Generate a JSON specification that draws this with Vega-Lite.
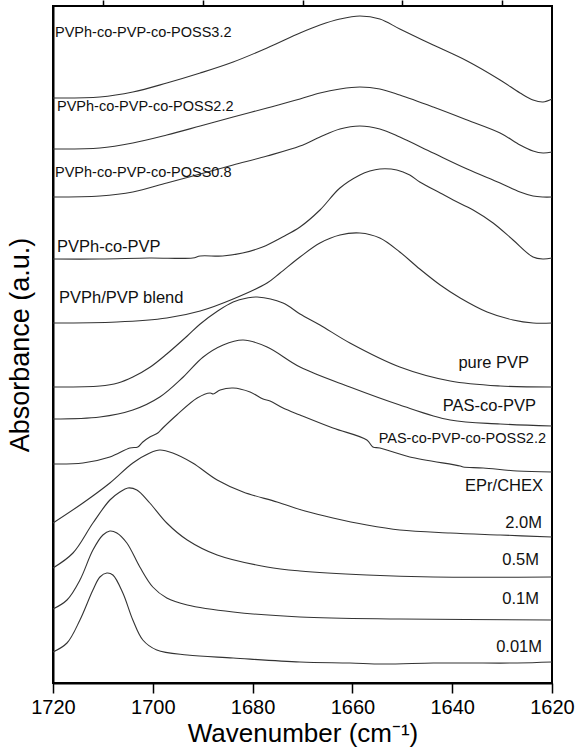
{
  "$schema": "https://vega.github.io/schema/vega-lite/v6.json",
  "width": 499,
  "height": 677,
  "autosize": "none",
  "padding": {"left": 53, "top": 6, "right": 29, "bottom": 71},
  "background": "white",
  "config": {
    "view": {"stroke": "#000", "strokeWidth": 2},
    "font": "Liberation Sans",
    "axis": {"labelFont": "Liberation Sans", "titleFont": "Liberation Sans", "grid": false}
  },
  "datasets": {
    "curves": [
      {"s":"PVPh-co-PVP-co-POSS3.2","wn":1720,"a":585},{"s":"PVPh-co-PVP-co-POSS3.2","wn":1710.6,"a":586},{"s":"PVPh-co-PVP-co-POSS3.2","wn":1704,"a":591},{"s":"PVPh-co-PVP-co-POSS3.2","wn":1697.2,"a":600},{"s":"PVPh-co-PVP-co-POSS3.2","wn":1690.5,"a":610},{"s":"PVPh-co-PVP-co-POSS3.2","wn":1683.9,"a":621},{"s":"PVPh-co-PVP-co-POSS3.2","wn":1677.1,"a":635},{"s":"PVPh-co-PVP-co-POSS3.2","wn":1670.5,"a":650},{"s":"PVPh-co-PVP-co-POSS3.2","wn":1666.5,"a":658},{"s":"PVPh-co-PVP-co-POSS3.2","wn":1662.5,"a":664},{"s":"PVPh-co-PVP-co-POSS3.2","wn":1658.5,"a":667},{"s":"PVPh-co-PVP-co-POSS3.2","wn":1654.5,"a":664},{"s":"PVPh-co-PVP-co-POSS3.2","wn":1650.5,"a":654},{"s":"PVPh-co-PVP-co-POSS3.2","wn":1643.8,"a":638},{"s":"PVPh-co-PVP-co-POSS3.2","wn":1637,"a":622},{"s":"PVPh-co-PVP-co-POSS3.2","wn":1630.4,"a":603},{"s":"PVPh-co-PVP-co-POSS3.2","wn":1626.4,"a":590},{"s":"PVPh-co-PVP-co-POSS3.2","wn":1623.8,"a":583},{"s":"PVPh-co-PVP-co-POSS3.2","wn":1621.8,"a":581},{"s":"PVPh-co-PVP-co-POSS3.2","wn":1620,"a":584},
      {"s":"PVPh-co-PVP-co-POSS2.2","wn":1720,"a":534},{"s":"PVPh-co-PVP-co-POSS2.2","wn":1710.6,"a":535},{"s":"PVPh-co-PVP-co-POSS2.2","wn":1704,"a":540},{"s":"PVPh-co-PVP-co-POSS2.2","wn":1697.2,"a":548},{"s":"PVPh-co-PVP-co-POSS2.2","wn":1690.5,"a":557},{"s":"PVPh-co-PVP-co-POSS2.2","wn":1683.9,"a":566},{"s":"PVPh-co-PVP-co-POSS2.2","wn":1677.1,"a":575},{"s":"PVPh-co-PVP-co-POSS2.2","wn":1670.5,"a":584},{"s":"PVPh-co-PVP-co-POSS2.2","wn":1666.5,"a":590},{"s":"PVPh-co-PVP-co-POSS2.2","wn":1662.5,"a":594},{"s":"PVPh-co-PVP-co-POSS2.2","wn":1658.5,"a":596},{"s":"PVPh-co-PVP-co-POSS2.2","wn":1654.5,"a":594},{"s":"PVPh-co-PVP-co-POSS2.2","wn":1650.5,"a":588},{"s":"PVPh-co-PVP-co-POSS2.2","wn":1643.8,"a":576},{"s":"PVPh-co-PVP-co-POSS2.2","wn":1637,"a":563},{"s":"PVPh-co-PVP-co-POSS2.2","wn":1630.4,"a":550},{"s":"PVPh-co-PVP-co-POSS2.2","wn":1626.4,"a":538},{"s":"PVPh-co-PVP-co-POSS2.2","wn":1623.8,"a":532},{"s":"PVPh-co-PVP-co-POSS2.2","wn":1621.8,"a":530},{"s":"PVPh-co-PVP-co-POSS2.2","wn":1620,"a":531},
      {"s":"PVPh-co-PVP-co-POSS0.8","wn":1720,"a":486},{"s":"PVPh-co-PVP-co-POSS0.8","wn":1710.6,"a":487},{"s":"PVPh-co-PVP-co-POSS0.8","wn":1704,"a":491},{"s":"PVPh-co-PVP-co-POSS0.8","wn":1697.2,"a":500},{"s":"PVPh-co-PVP-co-POSS0.8","wn":1690.5,"a":509},{"s":"PVPh-co-PVP-co-POSS0.8","wn":1683.9,"a":518},{"s":"PVPh-co-PVP-co-POSS0.8","wn":1677.1,"a":527},{"s":"PVPh-co-PVP-co-POSS0.8","wn":1670.5,"a":537},{"s":"PVPh-co-PVP-co-POSS0.8","wn":1666.5,"a":546},{"s":"PVPh-co-PVP-co-POSS0.8","wn":1662.5,"a":554},{"s":"PVPh-co-PVP-co-POSS0.8","wn":1658.5,"a":557},{"s":"PVPh-co-PVP-co-POSS0.8","wn":1654.5,"a":554},{"s":"PVPh-co-PVP-co-POSS0.8","wn":1650.5,"a":546},{"s":"PVPh-co-PVP-co-POSS0.8","wn":1643.8,"a":530},{"s":"PVPh-co-PVP-co-POSS0.8","wn":1637,"a":514},{"s":"PVPh-co-PVP-co-POSS0.8","wn":1630.4,"a":500},{"s":"PVPh-co-PVP-co-POSS0.8","wn":1626.4,"a":491},{"s":"PVPh-co-PVP-co-POSS0.8","wn":1623.8,"a":487},{"s":"PVPh-co-PVP-co-POSS0.8","wn":1621.8,"a":486},{"s":"PVPh-co-PVP-co-POSS0.8","wn":1620,"a":486},
      {"s":"PVPh-co-PVP","wn":1720,"a":424},{"s":"PVPh-co-PVP","wn":1710.6,"a":424},{"s":"PVPh-co-PVP","wn":1700.6,"a":425},{"s":"PVPh-co-PVP","wn":1692,"a":425},{"s":"PVPh-co-PVP","wn":1690.5,"a":427},{"s":"PVPh-co-PVP","wn":1686,"a":427},{"s":"PVPh-co-PVP","wn":1682,"a":430},{"s":"PVPh-co-PVP","wn":1678,"a":436},{"s":"PVPh-co-PVP","wn":1674,"a":446},{"s":"PVPh-co-PVP","wn":1670.5,"a":456},{"s":"PVPh-co-PVP","wn":1666.5,"a":473},{"s":"PVPh-co-PVP","wn":1662.5,"a":495},{"s":"PVPh-co-PVP","wn":1658.5,"a":508},{"s":"PVPh-co-PVP","wn":1656.5,"a":512},{"s":"PVPh-co-PVP","wn":1654.5,"a":514},{"s":"PVPh-co-PVP","wn":1651.1,"a":513},{"s":"PVPh-co-PVP","wn":1648.5,"a":508},{"s":"PVPh-co-PVP","wn":1646.5,"a":501},{"s":"PVPh-co-PVP","wn":1642.4,"a":490},{"s":"PVPh-co-PVP","wn":1639.8,"a":483},{"s":"PVPh-co-PVP","wn":1635.8,"a":473},{"s":"PVPh-co-PVP","wn":1631.8,"a":460},{"s":"PVPh-co-PVP","wn":1627.8,"a":443},{"s":"PVPh-co-PVP","wn":1623.8,"a":426},{"s":"PVPh-co-PVP","wn":1621.8,"a":424},{"s":"PVPh-co-PVP","wn":1620,"a":425},
      {"s":"PVPh/PVP blend","wn":1720,"a":360},{"s":"PVPh/PVP blend","wn":1707.2,"a":361},{"s":"PVPh/PVP blend","wn":1697.2,"a":365},{"s":"PVPh/PVP blend","wn":1690.5,"a":372},{"s":"PVPh/PVP blend","wn":1683.9,"a":384},{"s":"PVPh/PVP blend","wn":1677.1,"a":400},{"s":"PVPh/PVP blend","wn":1674.5,"a":410},{"s":"PVPh/PVP blend","wn":1670.5,"a":426},{"s":"PVPh/PVP blend","wn":1666.5,"a":440},{"s":"PVPh/PVP blend","wn":1662.5,"a":448},{"s":"PVPh/PVP blend","wn":1658.5,"a":450},{"s":"PVPh/PVP blend","wn":1654.5,"a":445},{"s":"PVPh/PVP blend","wn":1650.5,"a":431},{"s":"PVPh/PVP blend","wn":1646.5,"a":414},{"s":"PVPh/PVP blend","wn":1642.4,"a":398},{"s":"PVPh/PVP blend","wn":1638.4,"a":385},{"s":"PVPh/PVP blend","wn":1633,"a":371},{"s":"PVPh/PVP blend","wn":1627.8,"a":363},{"s":"PVPh/PVP blend","wn":1623.8,"a":360},{"s":"PVPh/PVP blend","wn":1620,"a":360},
      {"s":"pure PVP","wn":1720,"a":296},{"s":"pure PVP","wn":1710.6,"a":297},{"s":"pure PVP","wn":1707,"a":300},{"s":"pure PVP","wn":1704,"a":306},{"s":"pure PVP","wn":1700.5,"a":316},{"s":"pure PVP","wn":1697.2,"a":329},{"s":"pure PVP","wn":1693.1,"a":347},{"s":"pure PVP","wn":1690.5,"a":359},{"s":"pure PVP","wn":1687,"a":372},{"s":"pure PVP","wn":1683.9,"a":381},{"s":"pure PVP","wn":1681.1,"a":385},{"s":"pure PVP","wn":1679.1,"a":386},{"s":"pure PVP","wn":1673.9,"a":380},{"s":"pure PVP","wn":1670.5,"a":369},{"s":"pure PVP","wn":1666.5,"a":358},{"s":"pure PVP","wn":1660.5,"a":340},{"s":"pure PVP","wn":1650.5,"a":316},{"s":"pure PVP","wn":1640.4,"a":302},{"s":"pure PVP","wn":1630.4,"a":297},{"s":"pure PVP","wn":1620,"a":296},
      {"s":"PAS-co-PVP","wn":1720,"a":264},{"s":"PAS-co-PVP","wn":1710.6,"a":266},{"s":"PAS-co-PVP","wn":1704,"a":273},{"s":"PAS-co-PVP","wn":1698.6,"a":286},{"s":"PAS-co-PVP","wn":1693.9,"a":306},{"s":"PAS-co-PVP","wn":1689.9,"a":326},{"s":"PAS-co-PVP","wn":1685.9,"a":338},{"s":"PAS-co-PVP","wn":1681.9,"a":343},{"s":"PAS-co-PVP","wn":1677.1,"a":336},{"s":"PAS-co-PVP","wn":1670.5,"a":316},{"s":"PAS-co-PVP","wn":1660.5,"a":296},{"s":"PAS-co-PVP","wn":1650.5,"a":278},{"s":"PAS-co-PVP","wn":1640.4,"a":263},{"s":"PAS-co-PVP","wn":1630.4,"a":259},{"s":"PAS-co-PVP","wn":1620,"a":257},
      {"s":"PAS-co-PVP-co-POSS2.2","wn":1720,"a":219},{"s":"PAS-co-PVP-co-POSS2.2","wn":1714,"a":220},{"s":"PAS-co-PVP-co-POSS2.2","wn":1708.6,"a":226},{"s":"PAS-co-PVP-co-POSS2.2","wn":1704.6,"a":235},{"s":"PAS-co-PVP-co-POSS2.2","wn":1703,"a":236},{"s":"PAS-co-PVP-co-POSS2.2","wn":1702,"a":241},{"s":"PAS-co-PVP-co-POSS2.2","wn":1700.6,"a":246},{"s":"PAS-co-PVP-co-POSS2.2","wn":1699,"a":250},{"s":"PAS-co-PVP-co-POSS2.2","wn":1698,"a":255},{"s":"PAS-co-PVP-co-POSS2.2","wn":1695.2,"a":268},{"s":"PAS-co-PVP-co-POSS2.2","wn":1691.1,"a":285},{"s":"PAS-co-PVP-co-POSS2.2","wn":1688.5,"a":290},{"s":"PAS-co-PVP-co-POSS2.2","wn":1687.9,"a":289},{"s":"PAS-co-PVP-co-POSS2.2","wn":1686.5,"a":293},{"s":"PAS-co-PVP-co-POSS2.2","wn":1683.9,"a":295},{"s":"PAS-co-PVP-co-POSS2.2","wn":1680.5,"a":291},{"s":"PAS-co-PVP-co-POSS2.2","wn":1677.9,"a":284},{"s":"PAS-co-PVP-co-POSS2.2","wn":1676.5,"a":282},{"s":"PAS-co-PVP-co-POSS2.2","wn":1673.9,"a":275},{"s":"PAS-co-PVP-co-POSS2.2","wn":1670.5,"a":268},{"s":"PAS-co-PVP-co-POSS2.2","wn":1663.9,"a":255},{"s":"PAS-co-PVP-co-POSS2.2","wn":1657.1,"a":243},{"s":"PAS-co-PVP-co-POSS2.2","wn":1655.9,"a":236},{"s":"PAS-co-PVP-co-POSS2.2","wn":1654.5,"a":235},{"s":"PAS-co-PVP-co-POSS2.2","wn":1648.5,"a":226},{"s":"PAS-co-PVP-co-POSS2.2","wn":1638.4,"a":217},{"s":"PAS-co-PVP-co-POSS2.2","wn":1637.8,"a":216},{"s":"PAS-co-PVP-co-POSS2.2","wn":1633.8,"a":215},{"s":"PAS-co-PVP-co-POSS2.2","wn":1627,"a":212},{"s":"PAS-co-PVP-co-POSS2.2","wn":1620,"a":211},
      {"s":"2.0M","wn":1720,"a":160},{"s":"2.0M","wn":1714,"a":180},{"s":"2.0M","wn":1708.6,"a":200},{"s":"2.0M","wn":1704,"a":220},{"s":"2.0M","wn":1700.6,"a":230},{"s":"2.0M","wn":1698.6,"a":233},{"s":"2.0M","wn":1696,"a":230},{"s":"2.0M","wn":1692,"a":220},{"s":"2.0M","wn":1687.1,"a":203},{"s":"2.0M","wn":1681.9,"a":191},{"s":"2.0M","wn":1675.1,"a":181},{"s":"2.0M","wn":1669.5,"a":172},{"s":"2.0M","wn":1663.9,"a":165},{"s":"2.0M","wn":1657.1,"a":158},{"s":"2.0M","wn":1650.5,"a":153},{"s":"2.0M","wn":1640.4,"a":150},{"s":"2.0M","wn":1630.4,"a":148},{"s":"2.0M","wn":1620,"a":146},
      {"s":"0.5M","wn":1720,"a":115},{"s":"0.5M","wn":1716,"a":130},{"s":"0.5M","wn":1712,"a":160},{"s":"0.5M","wn":1708.6,"a":183},{"s":"0.5M","wn":1706.6,"a":191},{"s":"0.5M","wn":1705,"a":195},{"s":"0.5M","wn":1703.2,"a":193},{"s":"0.5M","wn":1700.6,"a":180},{"s":"0.5M","wn":1697.2,"a":160},{"s":"0.5M","wn":1693.1,"a":143},{"s":"0.5M","wn":1687.1,"a":128},{"s":"0.5M","wn":1677.1,"a":116},{"s":"0.5M","wn":1670.5,"a":112},{"s":"0.5M","wn":1657.1,"a":108},{"s":"0.5M","wn":1643.8,"a":106},{"s":"0.5M","wn":1620,"a":106},
      {"s":"0.1M","wn":1720,"a":74},{"s":"0.1M","wn":1717.2,"a":83},{"s":"0.1M","wn":1714.6,"a":103},{"s":"0.1M","wn":1712,"a":133},{"s":"0.1M","wn":1710,"a":148},{"s":"0.1M","wn":1708.6,"a":152},{"s":"0.1M","wn":1707.2,"a":150},{"s":"0.1M","wn":1705.2,"a":140},{"s":"0.1M","wn":1702.6,"a":116},{"s":"0.1M","wn":1700,"a":96},{"s":"0.1M","wn":1697.2,"a":85},{"s":"0.1M","wn":1693.1,"a":78},{"s":"0.1M","wn":1683.9,"a":71},{"s":"0.1M","wn":1670.5,"a":66},{"s":"0.1M","wn":1650.5,"a":64},{"s":"0.1M","wn":1620,"a":63},
      {"s":"0.01M","wn":1720,"a":31},{"s":"0.01M","wn":1717.2,"a":40},{"s":"0.01M","wn":1714.6,"a":63},{"s":"0.01M","wn":1712,"a":93},{"s":"0.01M","wn":1710.6,"a":106},{"s":"0.01M","wn":1709.2,"a":110},{"s":"0.01M","wn":1708,"a":108},{"s":"0.01M","wn":1706,"a":90},{"s":"0.01M","wn":1704,"a":63},{"s":"0.01M","wn":1702,"a":43},{"s":"0.01M","wn":1699.2,"a":33},{"s":"0.01M","wn":1693.1,"a":28},{"s":"0.01M","wn":1683.9,"a":25},{"s":"0.01M","wn":1670.5,"a":21},{"s":"0.01M","wn":1660.5,"a":20},{"s":"0.01M","wn":1653.9,"a":19},{"s":"0.01M","wn":1643.8,"a":20},{"s":"0.01M","wn":1637,"a":20},{"s":"0.01M","wn":1627,"a":20},{"s":"0.01M","wn":1620,"a":21}
    ],
    "labels": [
      {"label":"PVPh-co-PVP-co-POSS3.2","wn":1719.6,"a":650},
      {"label":"PVPh-co-PVP-co-POSS2.2","wn":1719.2,"a":576},
      {"label":"PVPh-co-PVP-co-POSS0.8","wn":1719.6,"a":510},
      {"label":"PVPh-co-PVP","wn":1719.2,"a":436},
      {"label":"PVPh/PVP blend","wn":1718.8,"a":385},
      {"label":"pure PVP","wn":1624.6,"a":320},
      {"label":"PAS-co-PVP","wn":1623.2,"a":277},
      {"label":"PAS-co-PVP-co-POSS2.2","wn":1621.2,"a":244},
      {"label":"EPr/CHEX","wn":1621.8,"a":197},
      {"label":"2.0M","wn":1622.0,"a":160},
      {"label":"0.5M","wn":1622.6,"a":123},
      {"label":"0.1M","wn":1622.6,"a":84},
      {"label":"0.01M","wn":1622.0,"a":36}
    ]
  },
  "resolve": {"scale": {"x": "shared", "y": "shared"}, "axis": {"x": "independent", "y": "independent"}},
  "layer": [
    {
      "data": {"name": "curves"},
      "mark": {"type": "line", "interpolate": "catmull-rom", "stroke": "#333", "strokeWidth": 1.1},
      "encoding": {
        "x": {"field": "wn", "type": "quantitative",
              "scale": {"domain": [1620, 1720], "reverse": true, "nice": false, "zero": false},
              "axis": {"values": [1720, 1700, 1680, 1660, 1640, 1620], "format": "d", "tickSize": 10, "tickWidth": 1.5, "tickColor": "#000",
                       "labelFontSize": 20, "labelColor": "#000", "labelPadding": 4, "labelFlush": false,
                       "domainColor": "#000", "domainWidth": 2,
                       "title": "Wavenumber (cm⁻¹)", "titleFontSize": 26, "titleFontWeight": "normal", "titleColor": "#000", "titlePadding": 3}},
        "y": {"field": "a", "type": "quantitative",
              "scale": {"domain": [0, 677], "nice": false, "zero": false},
              "axis": {"ticks": false, "labels": false, "domainColor": "#000", "domainWidth": 2,
                       "title": "Absorbance (a.u.)", "titleFontSize": 27, "titleFontWeight": "normal", "titleColor": "#000", "titlePadding": 19}},
        "detail": {"field": "s", "type": "nominal"}
      }
    },
    {
      "data": {"name": "labels"},
      "transform": [{"filter": {"field": "label", "oneOf": ["PVPh-co-PVP-co-POSS3.2", "PVPh-co-PVP-co-POSS2.2", "PVPh-co-PVP-co-POSS0.8"]}}],
      "mark": {"type": "text", "align": "left", "baseline": "middle", "fontSize": 14.5, "font": "Liberation Sans", "color": "#111"},
      "encoding": {
        "x": {"field": "wn", "type": "quantitative",
              "axis": {"values": [1710, 1690, 1670, 1650, 1630], "labels": false, "domain": false, "tickSize": 6, "tickWidth": 1.5, "tickColor": "#000", "title": null}},
        "y": {"field": "a", "type": "quantitative", "axis": null},
        "text": {"field": "label"}
      }
    },
    {
      "data": {"name": "labels"},
      "transform": [{"filter": {"field": "label", "oneOf": ["PVPh-co-PVP", "PVPh/PVP blend"]}}],
      "mark": {"type": "text", "align": "left", "baseline": "middle", "fontSize": 16.5, "font": "Liberation Sans", "color": "#111"},
      "encoding": {
        "x": {"field": "wn", "type": "quantitative", "axis": null},
        "y": {"field": "a", "type": "quantitative", "axis": null},
        "text": {"field": "label"}
      }
    },
    {
      "data": {"name": "labels"},
      "transform": [{"filter": {"field": "label", "oneOf": ["pure PVP", "PAS-co-PVP", "EPr/CHEX", "2.0M", "0.5M", "0.1M", "0.01M"]}}],
      "mark": {"type": "text", "align": "right", "baseline": "middle", "fontSize": 16.5, "font": "Liberation Sans", "color": "#111"},
      "encoding": {
        "x": {"field": "wn", "type": "quantitative", "axis": null},
        "y": {"field": "a", "type": "quantitative", "axis": null},
        "text": {"field": "label"}
      }
    },
    {
      "data": {"name": "labels"},
      "transform": [{"filter": {"field": "label", "oneOf": ["PAS-co-PVP-co-POSS2.2"]}}],
      "mark": {"type": "text", "align": "right", "baseline": "middle", "fontSize": 14.5, "font": "Liberation Sans", "color": "#111"},
      "encoding": {
        "x": {"field": "wn", "type": "quantitative", "axis": null},
        "y": {"field": "a", "type": "quantitative", "axis": null},
        "text": {"field": "label"}
      }
    }
  ]
}
